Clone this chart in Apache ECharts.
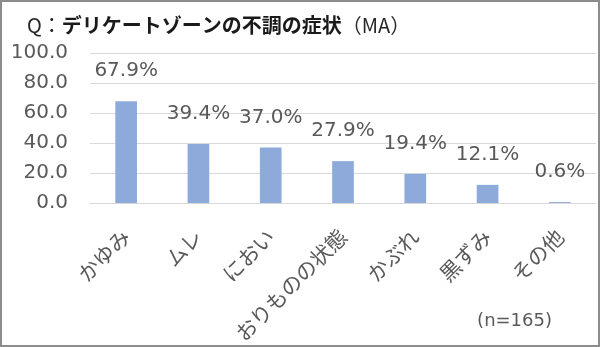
<!DOCTYPE html>
<html>
<head>
<meta charset="utf-8">
<script src="https://cdn.jsdelivr.net/npm/echarts@6/dist/echarts.min.js"></script>
<style>
  html, body { margin: 0; padding: 0; background: #fff; }
  #frame { position: absolute; left: 0; top: 0; width: 596px; height: 343px; border: 2px solid #8c8c8c; }
  #chart { width: 596px; height: 343px; }
</style>
</head>
<body>
<div id="frame"><div id="chart"></div></div>
<script>
// Symptoms and share of respondents (%)
const categories = ['かゆみ', 'ムレ', 'におい', 'おりものの状態', 'かぶれ', '黒ずみ', 'その他'];
const values = [67.9, 39.4, 37.0, 27.9, 19.4, 12.1, 0.6];
const yTicks = { min: 0, max: 100, interval: 20 };

const jpFont = '"Noto Sans CJK JP", "Noto Sans", sans-serif';
const numFont = '"DejaVu Sans", "Noto Sans", sans-serif';
const textColor = '#595959';

const chart = echarts.init(document.getElementById('chart'), null, { renderer: 'canvas' });
chart.setOption({
  animation: false,
  textStyle: { fontFamily: jpFont },
  title: {
    left: 20,
    top: 8,
    text: '{r|Q：}{b|デリケートゾーンの不調の症状}{r|（MA）}',
    textStyle: {
      rich: {
        r: { fontFamily: jpFont, fontSize: 20, color: '#262626', fontWeight: 'normal' },
        b: { fontFamily: jpFont, fontSize: 20, color: '#1a1a1a', fontWeight: 'bold' }
      }
    }
  },
  graphic: [{
    type: 'text',
    right: 46,
    top: 310,
    style: { text: '(n=165)', fontFamily: numFont, fontSize: 18, fill: textColor }
  }],
  grid: { left: 88, right: 2, top: 51, bottom: 142, containLabel: false, outerBoundsMode: 'none' },
  xAxis: {
    type: 'category',
    data: categories,
    axisTick: { show: false },
    axisLine: { lineStyle: { color: '#d9d9d9' } },
    axisLabel: {
      rotate: 45,
      interval: 0,
      margin: 30,
      fontFamily: jpFont,
      fontSize: 21,
      color: textColor
    }
  },
  yAxis: {
    type: 'value',
    min: yTicks.min,
    max: yTicks.max,
    interval: yTicks.interval,
    axisLine: { show: false },
    axisTick: { show: false },
    splitLine: { lineStyle: { color: '#d9d9d9', width: 1 } },
    axisLabel: {
      margin: 22,
      fontFamily: numFont,
      fontSize: 20,
      color: textColor,
      formatter: v => v.toFixed(1)
    }
  },
  series: [{
    type: 'bar',
    data: values,
    barWidth: '30%',
    itemStyle: { color: '#8eaadb' },
    label: {
      show: true,
      position: 'top',
      distance: 20,
      fontFamily: numFont,
      fontSize: 20,
      color: textColor,
      formatter: p => p.value.toFixed(1) + '%'
    }
  }]
});
</script>
</body>
</html>
